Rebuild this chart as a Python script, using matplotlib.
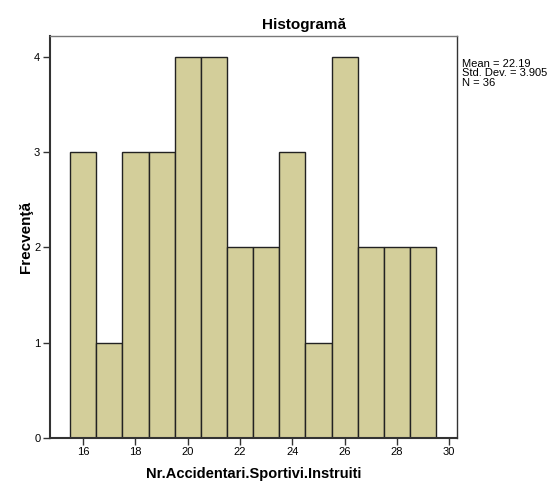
import numpy as np
import matplotlib
matplotlib.use('Agg')
import matplotlib.pyplot as plt

plt.rcParams['font.family'] = ['Liberation Sans', 'DejaVu Sans']

# histogram bins (centres) and counts
bin_centers = [16, 17, 18, 19, 20, 21, 22, 23, 24, 25, 26, 27, 28, 29]
counts = [3, 1, 3, 3, 4, 4, 2, 2, 3, 1, 4, 2, 2, 2]
x_ticks = [16, 18, 20, 22, 24, 26, 28, 30]
y_ticks = [0, 1, 2, 3, 4]
stats_text = "Mean = 22.19\nStd. Dev. = 3.905\nN = 36"

fig = plt.figure(figsize=(5.53, 4.83), dpi=100)
ax = fig.add_axes([0.0904, 0.0938, 0.7355, 0.8317])

ax.bar(bin_centers, counts, width=1.0, color='#d3ce9a', edgecolor='#222222', linewidth=1.0)

ax.set_xlim(14.73, 30.29)
ax.set_ylim(0, 4.22)
ax.set_xticks(x_ticks)
ax.set_yticks(y_ticks)
ax.tick_params(axis='both', direction='out', length=5, width=1, labelsize=8, color='#333333', pad=2)

for s in ['left', 'bottom']:
    ax.spines[s].set_color('#333333')
    ax.spines[s].set_linewidth(1.5)
ax.spines['top'].set_color('#777777')
ax.spines['top'].set_linewidth(1.0)
ax.spines['right'].set_color('#333333')
ax.spines['right'].set_linewidth(1.0)

# title sits right of the axes centre, like the SPSS output
fig.text(304 / 553, 1 - 25 / 483, 'Histogramă', fontsize=11, fontweight='bold', ha='center', va='center')
ax.set_xlabel('Nr.Accidentari.Sportivi.Instruiti', fontsize=10.5, fontweight='bold', labelpad=7)
ax.set_ylabel('Frecvenţă', fontsize=11, fontweight='bold', labelpad=1)

fig.text(462 / 553, 1 - 59 / 483, stats_text, fontsize=8, va='top', ha='left', linespacing=0.92)

fig.savefig('out.png', dpi=100)
